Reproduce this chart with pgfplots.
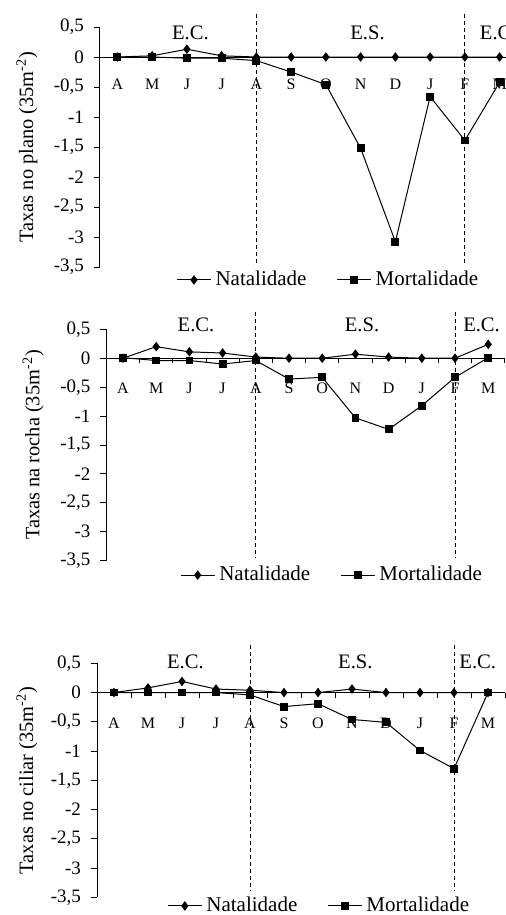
\documentclass[border=0pt]{standalone}
\usepackage{fontspec}
\setmainfont{Liberation Serif}
\usepackage{pgfplots}
\pgfplotsset{compat=1.18}

\pgfplotsset{
  painel/.style={
    scale only axis,
    anchor=south west,
    xmin=-0.5, xmax=11.5,
    ymin=-3.5, ymax=0.5,
    axis x line=middle,
    axis y line=left,
    axis line style={-, line width=0.5pt},
    xtick={0,...,11},
    xticklabels={A,M,J,J,A,S,O,N,D,J,F,M},
    major x tick style={draw=none},
    xticklabel style={font=\fontsize{8}{9}\selectfont, anchor=north, yshift=-6pt},
    ytick={-3.5,-3,-2.5,-2,-1.5,-1,-0.5,0,0.5},
    /pgf/number format/assume math mode=true,
    /pgf/number format/use comma,
    /pgf/number format/fixed,
    yticklabel style={font=\fontsize{9.5}{11}\selectfont, xshift=-1.5pt},
    ytick align=outside,
    tick style={black, line width=0.5pt},
    major tick length=3pt,
    clip=false,
    legend columns=2,
    legend style={draw=none, fill=none, font=\fontsize{10.5}{12}\selectfont,
      anchor=center, /tikz/every even column/.append style={column sep=13pt}},
    ylabel style={font=\fontsize{10.2}{12}\selectfont, anchor=center},
  },
  comticks/.style={
    minor xtick={-0.5,0.5,...,11.5},
    minor tick length=2.5pt,
    xtick align=outside,
  },
  nat/.style={black, line width=0.5pt, mark=diamond*, mark size=2pt},
  mor/.style={black, line width=0.5pt, mark=square*, mark size=1.7pt},
  sep/.style={black, line width=0.5pt, dash pattern=on 2pt off 1.5pt, forget plot},
}
\tikzset{estacao/.style={font=\fontsize{10.3}{12}\selectfont}}

\begin{document}
\begin{tikzpicture}

% plano
\begin{axis}[painel,
    at={(50pt,-133.5pt)}, width=208.5pt, height=120pt,
    ylabel={Taxas no plano (35m\textsuperscript{-2})},
    ylabel style={at={(axis description cs:-0.175,0.5)}},
    legend style={at={(0.55,-0.054)}}]
\addplot[nat] coordinates {(0,0) (1,0.02) (2,0.13) (3,0.02) (4,0) (5,0) (6,0) (7,0) (8,0) (9,0) (10,0) (11,0)};
\addplot[mor] coordinates {(0,0) (1,0) (2,-0.02) (3,-0.02) (4,-0.06) (5,-0.25) (6,-0.46) (7,-1.52) (8,-3.08) (9,-0.66) (10,-1.39) (11,-0.42)};
\addplot[sep] coordinates {(4,0.72) (4,-3.43)};
\addplot[sep] coordinates {(10,0.72) (10,-3.43)};
\node[estacao] at (axis cs:2.1,0.4) {E.C.};
\node[estacao] at (axis cs:7.2,0.4) {E.S.};
\node[estacao, anchor=west] at (axis cs:10.23,0.4) {E.C.};
\legend{Natalidade, Mortalidade}
\end{axis}

% rocha
\begin{axis}[painel, comticks,
    at={(53.2pt,-280.35pt)}, width=199.2pt, height=115.7pt,
    ylabel={Taxas na rocha (35m\textsuperscript{-2})},
    ylabel style={at={(axis description cs:-0.184,0.5)}},
    legend style={at={(0.569,-0.062)}}]
\addplot[nat] coordinates {(0,0) (1,0.2) (2,0.11) (3,0.09) (4,0.02) (5,0) (6,0) (7,0.07) (8,0.02) (9,0) (10,0) (11,0.24)};
\addplot[mor] coordinates {(0,0.01) (1,-0.04) (2,-0.04) (3,-0.1) (4,-0.04) (5,-0.36) (6,-0.33) (7,-1.03) (8,-1.23) (9,-0.82) (10,-0.33) (11,0.01)};
\addplot[sep] coordinates {(4,0.8) (4,-3.45)};
\addplot[sep] coordinates {(10,0.8) (10,-3.45)};
\node[estacao] at (axis cs:2.2,0.58) {E.C.};
\node[estacao] at (axis cs:7.2,0.58) {E.S.};
\node[estacao] at (axis cs:10.8,0.58) {E.C.};
\legend{Natalidade, Mortalidade}
\end{axis}

% ciliar
\begin{axis}[painel, comticks,
    at={(48.5pt,-448.65pt)}, width=204pt, height=117pt,
    ylabel={Taxas no ciliar (35m\textsuperscript{-2})},
    ylabel style={at={(axis description cs:-0.172,0.5)}},
    legend style={at={(0.547,-0.037)}}]
\addplot[nat] coordinates {(0,0) (1,0.08) (2,0.19) (3,0.06) (4,0.04) (5,0) (6,0) (7,0.06) (8,0) (9,0) (10,0) (11,0)};
\addplot[mor] coordinates {(0,0) (1,0) (2,0) (3,0) (4,-0.04) (5,-0.24) (6,-0.19) (7,-0.46) (8,-0.51) (9,-0.99) (10,-1.3) (11,0)};
\addplot[sep] coordinates {(4,0.82) (4,-3.4)};
\addplot[sep] coordinates {(10,0.82) (10,-3.4)};
\node[estacao] at (axis cs:2.1,0.52) {E.C.};
\node[estacao] at (axis cs:7.1,0.52) {E.S.};
\node[estacao] at (axis cs:10.7,0.52) {E.C.};
\legend{Natalidade, Mortalidade}
\end{axis}

\pgfresetboundingbox
\useasboundingbox (0,0) rectangle (253pt,-457.5pt);
\end{tikzpicture}
\end{document}
